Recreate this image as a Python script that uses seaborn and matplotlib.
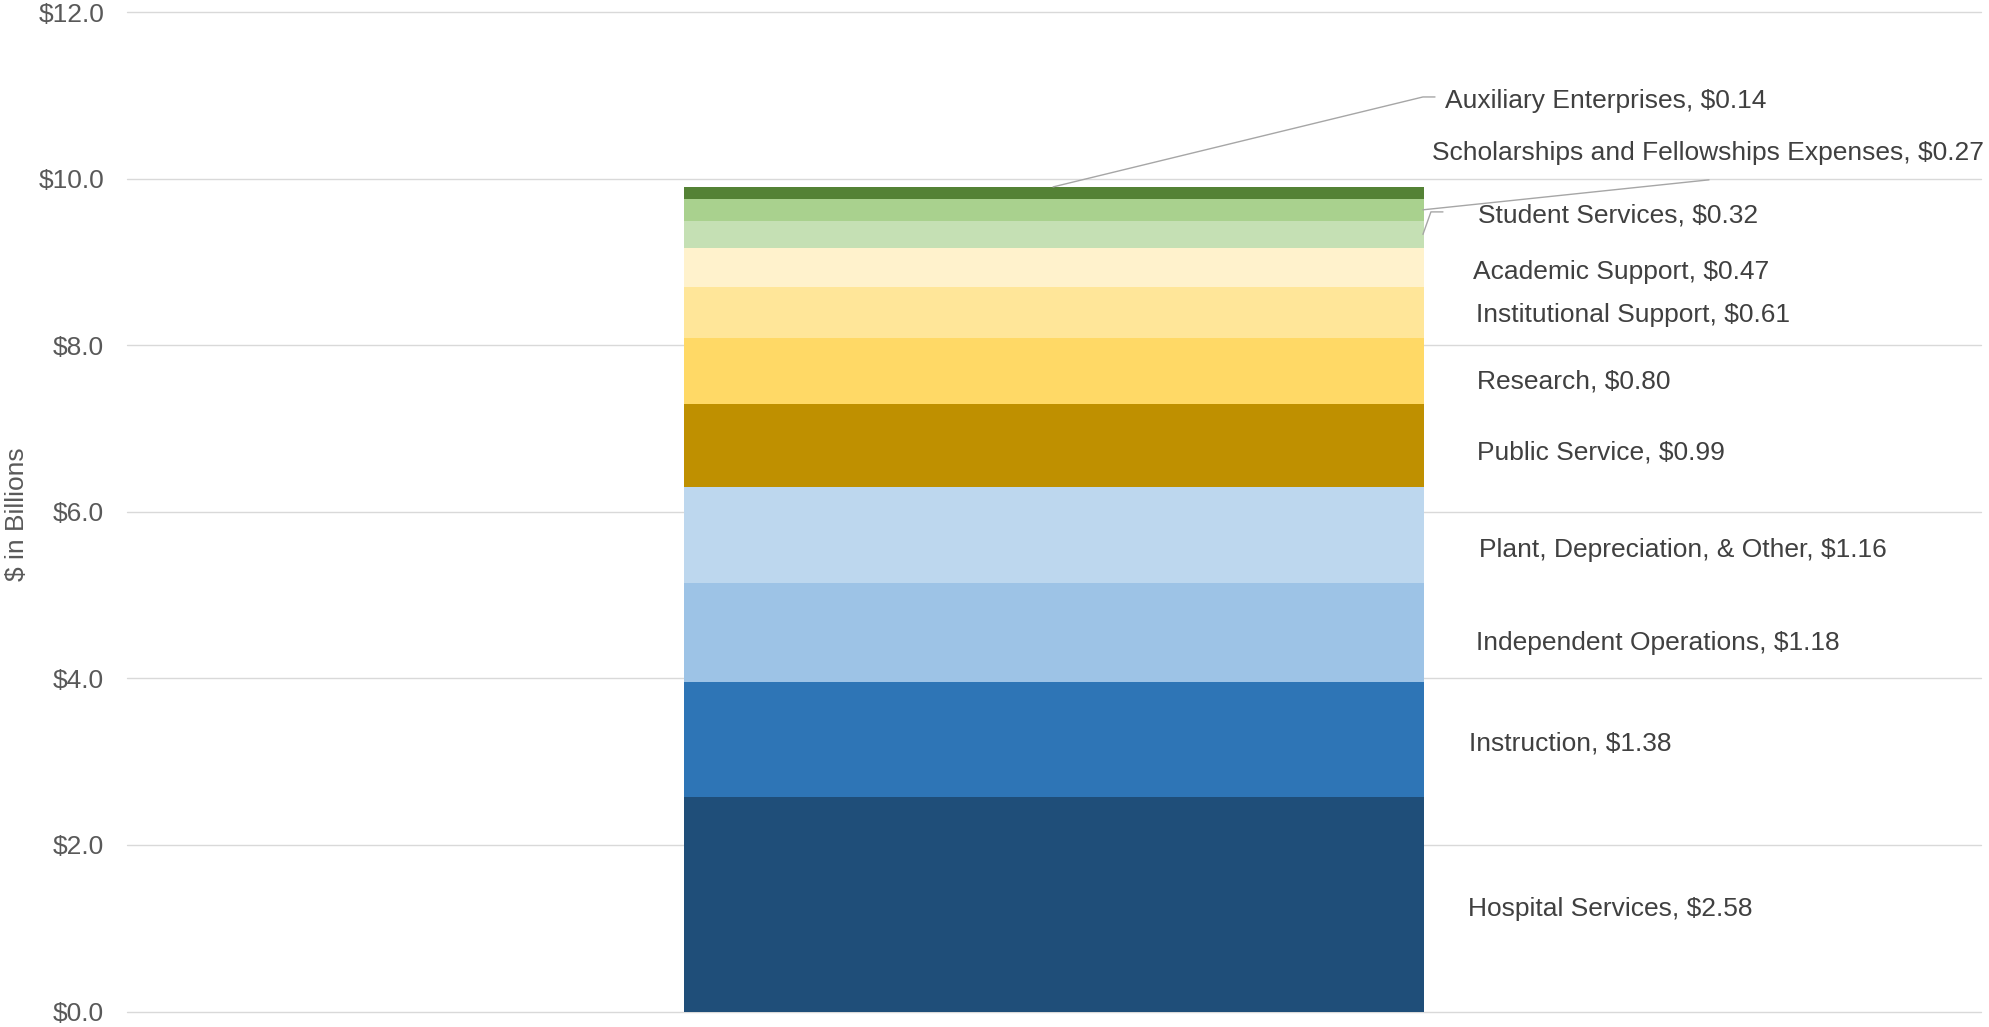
import matplotlib
matplotlib.use("Agg")
import matplotlib.pyplot as plt
import seaborn as sns
import pandas as pd
import numpy as np

# ---- data ----
categories = ["Hospital Services", "Instruction", "Independent Operations",
              "Plant, Depreciation, & Other", "Public Service", "Research",
              "Institutional Support", "Academic Support", "Student Services",
              "Scholarships and Fellowships Expenses", "Auxiliary Enterprises"]
values = [2.58, 1.38, 1.18, 1.16, 0.99, 0.80, 0.61, 0.47, 0.32, 0.27, 0.14]
colors = ["#1F4E79", "#2E75B6", "#9DC3E6", "#BDD7EE", "#BF9000", "#FFD966",
          "#FFE699", "#FFF2CC", "#C5E0B4", "#A9D18E", "#548235"]
yticks = [0, 2, 4, 6, 8, 10, 12]

# label positions (x, baseline y) in data units
label_x = [0.2233, 0.2238, 0.2276, 0.2292, 0.2282, 0.2282, 0.2276, 0.2260,
           0.2287, 0.2039, 0.2109]
label_y = [1.141, 3.135, 4.336, 5.453, 6.631, 7.483, 8.276, 8.793,
           9.477, 10.222, 10.847]

sns.set_theme(style="white")
plt.rcParams["font.family"] = ["Liberation Sans", "DejaVu Sans"]

df = pd.DataFrame({"category": categories, "value": values})
df["cum"] = df["value"].cumsum()
df["group"] = "Total"

fig = plt.figure(figsize=(19.89, 10.27), dpi=100)
ax = fig.add_axes([127/1989, 1 - 1011.5/1027, 1854/1989, 999.5/1027])

# stacked bar via overlapping cumulative bars (top drawn first)
for i in range(len(df) - 1, -1, -1):
    sns.barplot(data=df.iloc[[i]], x="group", y="cum", color=colors[i],
                saturation=1, width=0.399, linewidth=0, ax=ax, errorbar=None,
                zorder=3)

ax.set_xlim(-0.5, 0.5)
ax.set_ylim(0, 12)
ax.set_yticks(yticks)
ax.set_yticklabels([f"${t:.1f}" for t in yticks])
ax.tick_params(axis="y", length=0, pad=16.5, labelsize=19, labelcolor="#595959")
ax.set_xticks([])
ax.set_xlabel("")
ax.set_ylabel("")
for s in ax.spines.values():
    s.set_visible(False)
ax.yaxis.grid(True, color="#D9D9D9", linewidth=1.0, zorder=0)
for gl in ax.get_ygridlines():
    gl.set_clip_on(False)
ax.set_axisbelow(True)

# labels
for i, cat in enumerate(categories):
    ax.text(label_x[i], label_y[i], f"{cat}, ${values[i]:.2f}", ha="left",
            va="baseline", fontsize=19, color="#404040", zorder=5,
            clip_on=False)

# leader lines
cum = df["cum"].tolist()
lc = "#A6A6A6"
# Auxiliary Enterprises
ax.plot([-0.0005, 0.199, 0.2055], [cum[10], 10.98, 10.98], color=lc, lw=1.0,
        zorder=4, clip_on=False)
# Scholarships
ax.plot([0.199, 0.3533], [cum[9] - values[9] / 2, 9.985], color=lc, lw=1.0,
        zorder=4, clip_on=False)
# Student Services
ax.plot([0.199, 0.2033, 0.2098], [cum[8] - values[8] / 2, 9.60, 9.60],
        color=lc, lw=1.0, zorder=4, clip_on=False)

fig.text(17/1989, 1 - 514/1027, "$ in Billions", rotation=90, ha="center",
         va="center", fontsize=19, color="#595959")

fig.savefig("out.png", dpi=100)
